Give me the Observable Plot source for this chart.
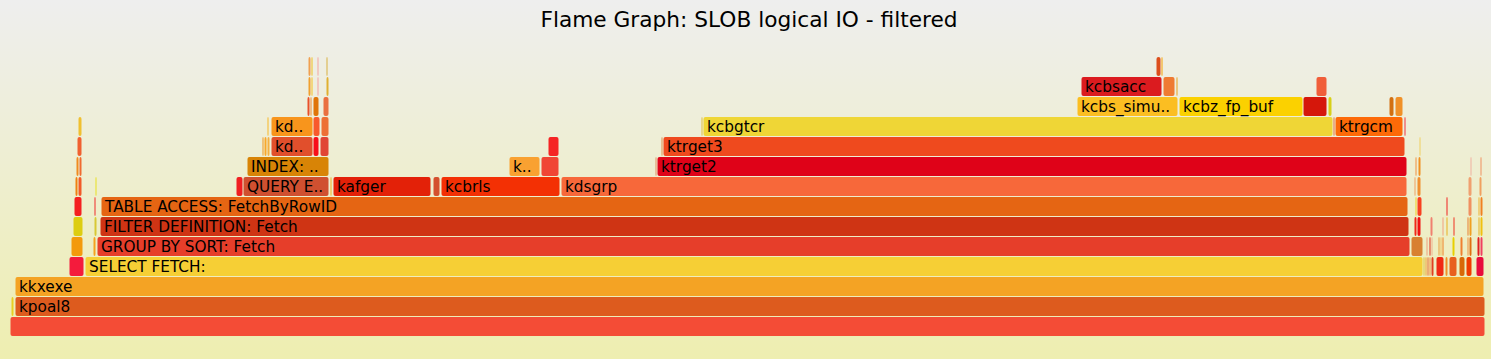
<!DOCTYPE html>
<html><head><meta charset="utf-8">
<script src="https://cdn.jsdelivr.net/npm/d3@7"></script>
<script src="https://cdn.jsdelivr.net/npm/@observablehq/plot@0.6"></script>
<style>
html,body{margin:0;padding:0;}
body{width:1491px;height:359px;background:linear-gradient(to bottom,#eeeeee 0%,#eeeeb0 100%);overflow:hidden;}
</style></head><body><div id="chart"></div>
<script>
const chartTitle = "Flame Graph: SLOB logical IO - filtered";
const totalSamples = 1475;
const maxDepth = 16;

// frames per stack depth: [start sample, end sample, label]
const depth0 = [[0,1475,""]];
const depth1 = [[1,4,""],[5,1475,"kpoal8"]];
const depth2 = [[5,1474,"kkxexe"]];
const depth3 = [[59,74,""],[75,1413,"SELECT FETCH:"],[1413,1415,""],[1415,1417,""],[1417,1419,""],[1419,1421,""],[1421,1424,""],[1426,1434,""],[1435,1438,""],[1439,1447,""],[1449,1455,""],[1456,1462,""],[1466,1474,""]];
const depth4 = [[61,73,""],[83,86,""],[87,1400,"GROUP BY SORT: Fetch"],[1401,1413,""],[1416,1418,""],[1419,1421,""],[1421,1423,""],[1428,1430,""],[1430,1432,""],[1432,1434,""],[1442,1445,""],[1450,1453,""],[1457,1459,""],[1459,1462,""],[1467,1470,""],[1470,1473,""]];
const depth5 = [[63,73,""],[84,87,""],[90,1399,"FILTER DEFINITION: Fetch"],[1404,1407,""],[1407,1411,""],[1420,1423,""],[1432,1434,""],[1436,1438,""],[1443,1445,""],[1452,1453,""],[1457,1459,""],[1459,1462,""],[1468,1470,""],[1470,1473,""]];
const depth6 = [[64,72,""],[84,86,""],[91,1398,"TABLE ACCESS: FetchByRowID"],[1399,1400,""],[1405,1407,""],[1407,1412,""],[1422,1423,""],[1432,1433,""],[1436,1438,""],[1443,1444,""],[1452,1453,""],[1458,1462,""],[1468,1470,""],[1470,1473,""]];
const depth7 = [[65,68,""],[68,72,""],[85,87,""],[226,233,""],[233,319,"QUERY E.."],[320,322,""],[323,421,"kafger"],[422,423,""],[423,430,""],[431,550,"kcbrls"],[551,1397,"kdsgrp"],[1404,1406,""],[1407,1411,""],[1422,1423,""],[1437,1438,""],[1453,1454,""],[1458,1462,""],[1469,1472,""]];
const depth8 = [[66,69,""],[69,72,""],[85,86,""],[237,319,"INDEX: .."],[499,530,"k.."],[531,549,""],[645,647,""],[647,1397,"ktrget2"],[1405,1407,""],[1408,1411,""],[1453,1454,""],[1458,1459,""],[1460,1462,""],[1470,1472,""]];
const depth9 = [[67,72,""],[85,86,""],[252,254,""],[254,257,""],[257,260,""],[261,303,"kd.."],[303,309,""],[310,319,""],[538,549,""],[651,653,""],[653,1395,"ktrget3"],[1406,1407,""],[1409,1411,""],[1412,1413,""],[1473,1474,""]];
const depth10 = [[68,72,""],[257,259,""],[261,303,"kd.."],[303,310,""],[311,319,""],[691,693,""],[693,1323,"kcbgtcr"],[1323,1325,""],[1325,1393,"ktrgcm"],[1394,1396,""],[1406,1407,""],[1473,1474,""]];
const depth11 = [[70,71,""],[297,300,""],[300,302,""],[303,309,""],[313,319,""],[1067,1168,"kcbs_simu.."],[1169,1293,"kcbz_fp_buf"],[1293,1317,""],[1318,1322,""],[1379,1384,""],[1385,1393,""],[1473,1474,""]];
const depth12 = [[298,301,""],[301,303,""],[307,309,""],[316,319,""],[1071,1152,"kcbsacc"],[1153,1165,""],[1166,1168,""],[1306,1317,""]];
const depth13 = [[298,301,""],[301,303,""],[307,309,""],[316,318,""],[1146,1151,""],[1151,1153,""]];
const depth14 = [[302,303,""]];

// fill colour of each frame, same order as above
const colors0 = ["#f44c36"];
const colors1 = ["#e8cf22","#dd5b1e"];
const colors2 = ["#f4a324"];
const colors3 = ["#f41b3c","#f6cf35","#dcc43a","#f0a030","#e8682a","#f09040","#e04020","#f02a14","#f09028","#e8601e","#d86808","#f03a00","#e80c3c"];
const colors4 = ["#f39a0c","#f4a21e","#e63e2a","#d88030","#f0a080","#e03020","#f0b090","#e8a040","#f0c060","#f08020","#e8d000","#f08030","#f09040","#e07010","#e02020","#f04060"];
const colors5 = ["#ddcd10","#d8c834","#cf3414","#f02818","#f01010","#f08070","#f0a080","#e8b020","#f03020","#f0a060","#e88030","#f0a020","#e8b020","#f0c010"];
const colors6 = ["#f42020","#f02a2a","#e56513","#f02030","#f0d020","#f84020","#f0a080","#f0c080","#f02020","#f0a070","#e88030","#f09060","#f0b030","#f08020"];
const colors7 = ["#f08010","#f25a28","#e8e020","#f01f22","#d05030","#f0b020","#e32108","#e89040","#d4502e","#f33004","#f7683a","#f0a060","#f09030","#f0b0a0","#e0b040","#e8c040","#f0a070","#f0a060"];
const colors8 = ["#f08a20","#f06a30","#f06030","#d88406","#f9a131","#f04535","#e09060","#df0218","#f09040","#f09020","#e8d040","#f04040","#f0b0a0","#f09060"];
const colors9 = ["#f06030","#f0a030","#f09820","#f8a82a","#f4b040","#e14f2c","#f80f1a","#e14535","#f52424","#e09050","#ef4a1e","#f09030","#f0d060","#f0b0a0","#f0a060"];
const colors10 = ["#f0c030","#f8b828","#f8951c","#f85a2c","#ed7035","#e0c040","#efd636","#e07040","#fd6a08","#f03040","#f0d040","#f0d0b0"];
const colors11 = ["#f0a050","#e8502a","#f08a30","#e07508","#ea7040","#fbbe22","#fbd100","#d5170b","#d8d018","#d27012","#f09028","#f0d0c0"];
const colors12 = ["#f0a030","#f6c020","#f4a0a0","#e0b030","#db1b1f","#ef7a32","#e8a020","#f05e3a"];
const colors13 = ["#f0a050","#f0c020","#f4a4a0","#d8b040","#dc4e1c","#f8a000"];
const colors14 = ["#f08080"];

const levels = [depth0,depth1,depth2,depth3,depth4,depth5,depth6,depth7,depth8,depth9,depth10,depth11,depth12,depth13,depth14];
const colorLevels = [colors0,colors1,colors2,colors3,colors4,colors5,colors6,colors7,colors8,colors9,colors10,colors11,colors12,colors13,colors14];

const frames = levels.flatMap((lvl, depth) => lvl.map(([start, end, label], i) => ({
  depth, start, end, label, color: colorLevels[depth][i]
})));

const chart = Plot.plot({
  width: 1491,
  height: 359,
  margin: 0,
  x: {domain: [0, totalSamples], range: [10, 1485], axis: null},
  y: {domain: [0, maxDepth], range: [337, 17], axis: null},
  color: {type: "identity"},
  style: {background: "transparent", fontFamily: "'DejaVu Sans', Verdana, sans-serif", overflow: "visible"},
  marks: [
    Plot.rect(frames, {
      x1: "start", x2: "end",
      y1: "depth", y2: d => d.depth + 1,
      fill: "color",
      insetBottom: 1, insetLeft: 0.5, insetRight: 0.5,
      rx: 2
    }),
    Plot.text(frames.filter(d => d.label), {
      x: "start", y: d => d.depth + 0.5,
      text: "label",
      textAnchor: "start",
      dx: 3.5,
      fontSize: 15.3,
      fill: "black"
    }),
    Plot.text([chartTitle], {
      frameAnchor: "top",
      lineAnchor: "top",
      text: d => d,
      dy: 11,
      dx: 3,
      fontSize: 21.7,
      fill: "black"
    })
  ]
});
document.getElementById("chart").appendChild(chart);
</script>
</body></html>
